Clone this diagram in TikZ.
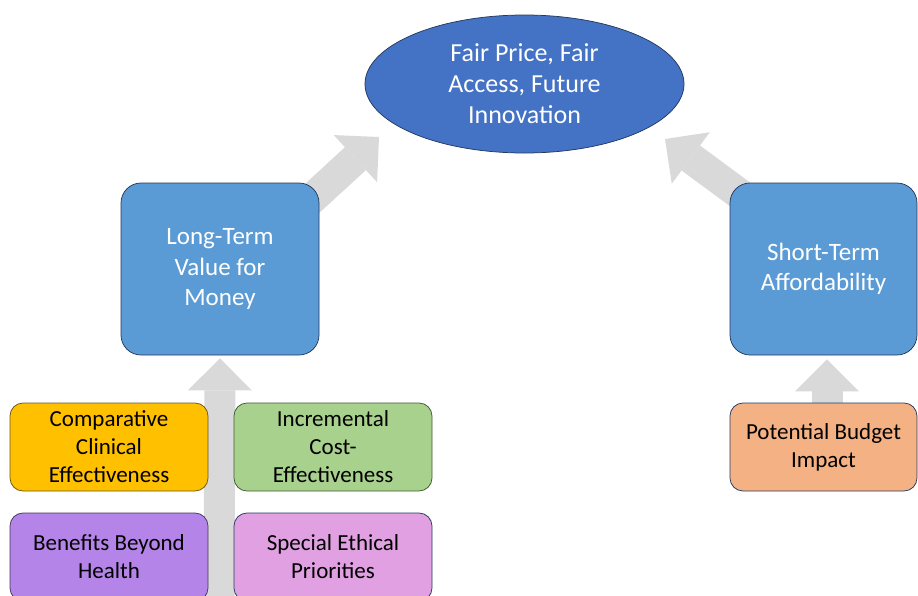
\documentclass[tikz,border=0pt]{standalone}
\usepackage{fontspec}
\setmainfont{Carlito}
\usetikzlibrary{shapes.geometric,arrows.meta,backgrounds}

\definecolor{goalblue}{RGB}{68,114,196}
\definecolor{pillarblue}{RGB}{91,155,213}
\definecolor{navyline}{RGB}{38,58,96}
\definecolor{goldfill}{RGB}{255,192,0}
\definecolor{goldline}{RGB}{110,85,20}
\definecolor{greenfill}{RGB}{169,209,142}
\definecolor{greenline}{RGB}{62,90,50}
\definecolor{purplefill}{RGB}{180,132,232}
\definecolor{purpleline}{RGB}{70,55,95}
\definecolor{pinkfill}{RGB}{224,160,226}
\definecolor{peachfill}{RGB}{244,177,131}
\definecolor{arrowgrey}{RGB}{217,217,217}

\tikzset{every picture/.style={line width=0.75pt},
	goal/.style={ellipse, draw=navyline, fill=goalblue, minimum width=319pt, minimum height=138pt, inner sep=0pt, align=center, text=white, font=\fontsize{26}{31}\selectfont},
	pillar/.style={draw=navyline, fill=pillarblue, rounded corners=20pt, minimum width=198pt, minimum height=172pt, inner sep=0pt, align=center, text=white, font=\fontsize{25}{30.5}\selectfont},
	factor/.style={rounded corners=13pt, minimum width=198pt, minimum height=88pt, inner sep=0pt, align=center, text=black, font=\fontsize{23}{28}\selectfont},
	fatarrow/.style={draw=arrowgrey, line width=31pt, -{Triangle[width=64pt,length=32pt,line width=0pt]}}
}

\begin{document}
\begin{tikzpicture}[x=1pt,y=1pt,yscale=-1,xscale=1]
		\useasboundingbox (0,0) rectangle (918,595);

		%Shape: Ellipse
		\node[goal] (fair) at (524.5,84) {Fair Price, Fair\\Access, Future\\Innovation};
		%Shape: Rounded Rect
		\node[pillar] (ltv) at (220,269) {Long-Term\\Value for\\Money};
		%Shape: Rounded Rect
		\node[pillar, minimum width=187pt] (sta) at (823.5,269) {Short-Term\\Affordability};

		%Shape: Rounded Rect
		\node[factor, fill=goldfill, draw=goldline] (cce) at (109,447) {Comparative\\Clinical\\Effectiveness};
		%Shape: Rounded Rect
		\node[factor, fill=greenfill, draw=greenline] (ice) at (333,447) {Incremental\\Cost-\\Effectiveness};
		%Shape: Rounded Rect
		\node[factor, fill=purplefill, draw=purpleline] (bbh) at (109,557) {Benefits Beyond\\Health};
		%Shape: Rounded Rect
		\node[factor, fill=pinkfill, draw=navyline] (sep) at (333,557) {Special Ethical\\Priorities};
		%Shape: Rounded Rect
		\node[factor, fill=peachfill, draw=navyline, minimum width=187pt] (pbi) at (823.5,447) {Potential Budget\\Impact};

		\coordinate (ltvbase) at (219,620);
		\coordinate (goalL) at (379,137);
		\coordinate (goalR) at (665,139);

		\begin{scope}[on background layer]
		\fill[white] (0,0) rectangle (918,595);
		%Block Arrows
		\draw[fatarrow] (ltvbase) -- ([yshift=3pt]ltv.south);
		\draw[fatarrow] ([xshift=-14pt,yshift=22pt]ltv.north east) -- (goalL);
		\draw[fatarrow] ([xshift=23pt,yshift=21pt]sta.north west) -- (goalR);
		\draw[fatarrow] ([xshift=3.5pt]pbi.north) -- ([xshift=3.5pt,yshift=4pt]sta.south);
		\end{scope}

\end{tikzpicture}
\end{document}
